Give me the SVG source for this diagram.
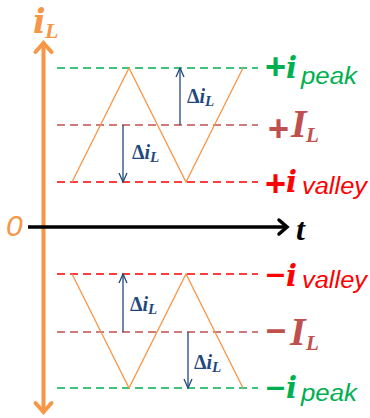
<svg xmlns="http://www.w3.org/2000/svg" width="370" height="418" viewBox="0 0 370 418">
<style>
.dash{stroke-width:1.3;stroke-dasharray:8 5;fill:none}
.g{stroke:#00B050}.b{stroke:#C0504D}.r{stroke:#FF0000}
.wave{fill:none;stroke:#F79646;stroke-width:1.3;stroke-linejoin:miter}
.da{stroke:#1F497D;stroke-width:1.3;fill:none}
.sym{font-family:"Liberation Sans",Arial,sans-serif;font-weight:bold}
.mi{font-family:"Liberation Serif","Times New Roman",serif;font-weight:bold;font-style:italic}
.bi{font-family:"DejaVu Serif","Liberation Serif",serif;font-weight:bold;font-style:italic}
.sub{font-family:"Liberation Sans",Arial,sans-serif;font-style:italic}
.dl{fill:#1F497D;font-family:"Liberation Serif","Times New Roman",serif;font-weight:bold;font-size:20px}
</style>
<g id="axes">
<g id="y-axis" fill="none" stroke="#F79646" stroke-width="4">
<line x1="43.5" y1="44" x2="43.5" y2="411"/>
<polyline points="35.5,52 43.5,43 51.5,52" stroke-linecap="round"/>
<polyline points="35.5,403 43.5,412 51.5,403" stroke-linecap="round"/>
</g>
<g id="t-axis" fill="none" stroke="#000" stroke-width="3.5">
<line x1="28" y1="227" x2="286" y2="227"/>
<polyline points="279,220 287,227 279,234" stroke-linecap="round"/>
</g>
<text id="iL-label" x="33" y="33" class="bi" font-size="33" fill="#F79646">i<tspan class="mi" font-size="22" x="45" y="38">L</tspan></text>
<text id="zero" x="6" y="236" font-family="'Liberation Sans',Arial,sans-serif" font-style="italic" font-size="30" fill="#F79646">0</text>
<text id="t-label" x="296" y="240" class="mi" font-size="32" fill="#000">t</text>
</g>
<g id="levels">
<line class="dash g" x1="57" y1="68" x2="258" y2="68"/>
<line class="dash b" x1="57" y1="125" x2="258" y2="125"/>
<line class="dash r" x1="57" y1="182" x2="258" y2="182"/>
<line class="dash r" x1="57" y1="274" x2="258" y2="274"/>
<line class="dash b" x1="57" y1="332" x2="258" y2="332"/>
<line class="dash g" x1="57" y1="388" x2="258" y2="388"/>
</g>
<g id="waves">
<polyline class="wave" points="72,182 129,68 186,182 243,68"/>
<polyline class="wave" points="72,274 129,388 186,274 243,388"/>
</g>
<g id="connectors">
<g class="da">
<line x1="180" y1="125" x2="180" y2="68"/><polyline points="176,77 180,68 184,77"/>
<line x1="123" y1="125" x2="123" y2="182"/><polyline points="119,173 123,182 127,173"/>
<line x1="123" y1="332" x2="123" y2="274"/><polyline points="119,283 123,274 127,283"/>
<line x1="188" y1="332" x2="188" y2="388"/><polyline points="184,379 188,388 192,379"/>
</g>
</g>
<g id="delta-labels">
<text class="dl" x="187" y="103">Δ<tspan font-style="italic">i</tspan><tspan font-style="italic" font-size="15" dy="3">L</tspan></text>
<text class="dl" x="132" y="159">Δ<tspan font-style="italic">i</tspan><tspan font-style="italic" font-size="15" dy="3">L</tspan></text>
<text class="dl" x="130" y="311">Δ<tspan font-style="italic">i</tspan><tspan font-style="italic" font-size="15" dy="3">L</tspan></text>
<text class="dl" x="194" y="369">Δ<tspan font-style="italic">i</tspan><tspan font-style="italic" font-size="15" dy="3">L</tspan></text>
</g>
<g id="label-pos-peak" fill="#00B050">
<text class="sym" x="265" y="79" font-size="36">+</text>
<text class="bi" x="286" y="78" font-size="29">i</text>
<text class="sub" x="301" y="84" font-size="23" textLength="56" lengthAdjust="spacingAndGlyphs">peak</text>
</g>
<g id="label-pos-IL" fill="#C0504D">
<text class="sym" x="268" y="141" font-size="36">+</text>
<text class="mi" x="291" y="137" font-size="40">I</text>
<text class="mi" x="306" y="142" font-size="21">L</text>
</g>
<g id="label-pos-valley" fill="#FF0000">
<text class="sym" x="265" y="196" font-size="36">+</text>
<text class="bi" x="286" y="192" font-size="29">i</text>
<text class="sub" x="302" y="194" font-size="23" textLength="65" lengthAdjust="spacingAndGlyphs">valley</text>
</g>
<g id="label-neg-valley" fill="#FF0000">
<text class="sym" x="266" y="284" font-size="34">–</text>
<text class="bi" x="286" y="286" font-size="29">i</text>
<text class="sub" x="302" y="288" font-size="23" textLength="65" lengthAdjust="spacingAndGlyphs">valley</text>
</g>
<g id="label-neg-IL" fill="#C0504D">
<text class="sym" x="266" y="341" font-size="36">–</text>
<text class="mi" x="290" y="345" font-size="40">I</text>
<text class="mi" x="306" y="350" font-size="21">L</text>
</g>
<g id="label-neg-peak" fill="#00B050">
<text class="sym" x="266" y="397" font-size="34">–</text>
<text class="bi" x="286" y="398" font-size="29">i</text>
<text class="sub" x="301" y="401" font-size="23" textLength="56" lengthAdjust="spacingAndGlyphs">peak</text>
</g>
</svg>
